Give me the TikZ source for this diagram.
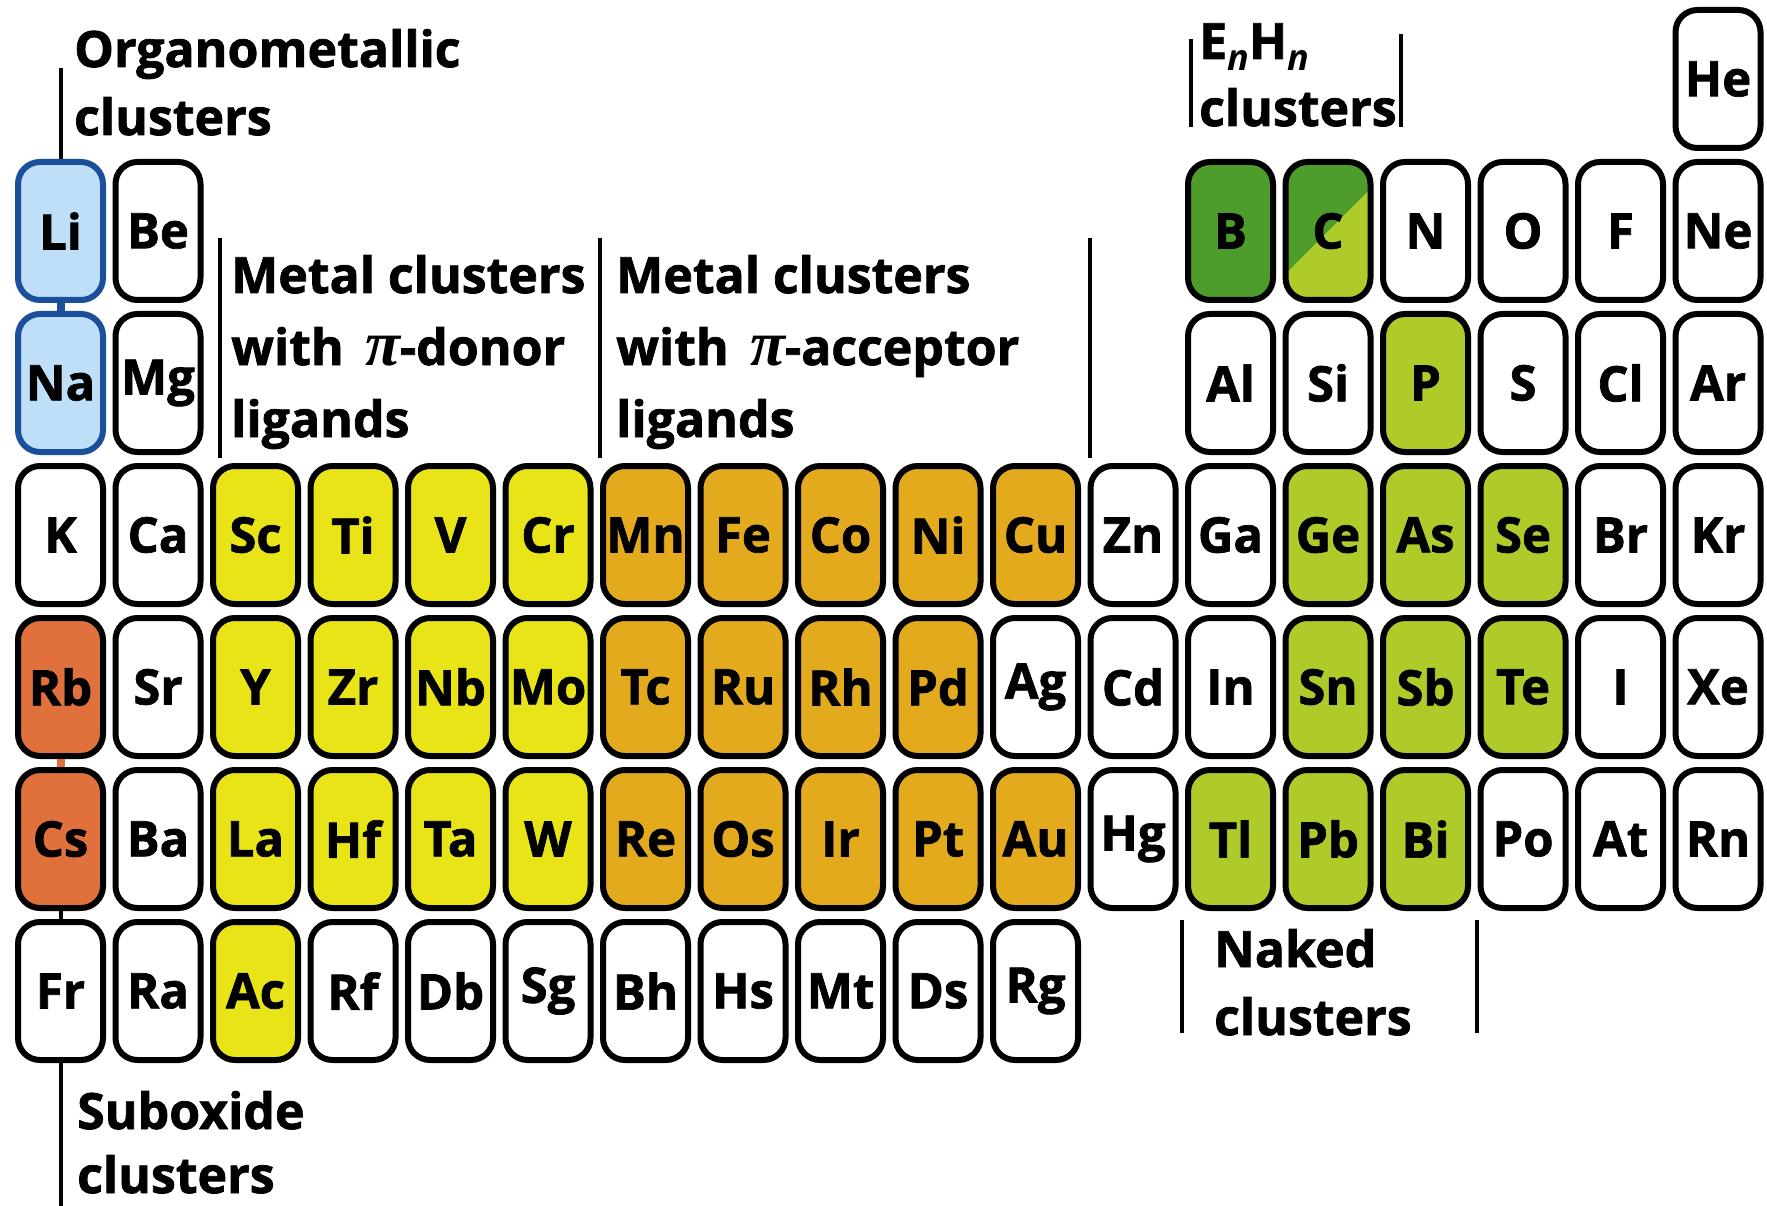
\documentclass[tikz,border=0pt]{standalone}
\usepackage{fontspec}
\setmainfont{Open Sans}[BoldFeatures={FakeBold=1.5}]
\newfontfamily\pifont{Liberation Serif}
\usetikzlibrary{calc}

\definecolor{clblue}{HTML}{BEDFF7}
\definecolor{cldkblue}{HTML}{1B4F9C}
\definecolor{clred}{HTML}{E0703C}
\definecolor{clyellow}{HTML}{E8E417}
\definecolor{clorange}{HTML}{E4AA1E}
\definecolor{cldkgreen}{HTML}{4E9C2C}
\definecolor{clgreen}{HTML}{AECB2A}

\newcommand{\subn}{\raisebox{-12pt}{\fontsize{36}{36}\selectfont\itshape n}}
\newcommand{\pisym}{\,{\fontsize{64}{64}\pifont\bfseries\itshape π}}

\tikzset{
  el/.style={draw=black, line width=6pt, rounded corners=22pt, minimum width=85pt,
    minimum height=138pt, inner sep=0pt, font=\fontsize{49}{49}\selectfont\bfseries},
  elwhite/.style={el, fill=white},
  elblue/.style={el, fill=clblue, draw=cldkblue},
  elred/.style={el, fill=clred},
  elyellow/.style={el, fill=clyellow},
  elorange/.style={el, fill=clorange},
  eldkgreen/.style={el, fill=cldkgreen},
  elgreen/.style={el, fill=clgreen},
  elsplit/.style={el, fill=clgreen, path picture={
    \fill[cldkgreen] ($(path picture bounding box.center)+(-150pt,-150pt)$)
      -- ($(path picture bounding box.center)+(150pt,150pt)$)
      -- ($(path picture bounding box.center)+(-150pt,150pt)$) -- cycle;}},
  lbl/.style={anchor=base west, inner sep=0pt, font=\fontsize{50}{50}\selectfont\bfseries},
  bar/.style={line width=4pt}
}

\begin{document}
\begin{tikzpicture}[x=1pt,y=-1pt]
  \useasboundingbox (0,0) rectangle (1767,1206);

  \foreach \sym/\st/\c/\r in {He/elwhite/18/1,
      Li/elblue/1/2, Be/elwhite/2/2, B/eldkgreen/13/2, C/elsplit/14/2, N/elwhite/15/2,
      O/elwhite/16/2, F/elwhite/17/2, Ne/elwhite/18/2,
      Na/elblue/1/3, Mg/elwhite/2/3, Al/elwhite/13/3, Si/elwhite/14/3, P/elgreen/15/3,
      S/elwhite/16/3, Cl/elwhite/17/3, Ar/elwhite/18/3}
    \node[\st] (\sym) at ({60.5+(\c-1)*97.5},{79+(\r-1)*152}) {\sym};

  \foreach \r/\lst in {
      4/{K/elwhite, Ca/elwhite, Sc/elyellow, Ti/elyellow, V/elyellow, Cr/elyellow,
         Mn/elorange, Fe/elorange, Co/elorange, Ni/elorange, Cu/elorange, Zn/elwhite,
         Ga/elwhite, Ge/elgreen, As/elgreen, Se/elgreen, Br/elwhite, Kr/elwhite},
      5/{Rb/elred, Sr/elwhite, Y/elyellow, Zr/elyellow, Nb/elyellow, Mo/elyellow,
         Tc/elorange, Ru/elorange, Rh/elorange, Pd/elorange, Ag/elwhite, Cd/elwhite,
         In/elwhite, Sn/elgreen, Sb/elgreen, Te/elgreen, I/elwhite, Xe/elwhite},
      6/{Cs/elred, Ba/elwhite, La/elyellow, Hf/elyellow, Ta/elyellow, W/elyellow,
         Re/elorange, Os/elorange, Ir/elorange, Pt/elorange, Au/elorange, Hg/elwhite,
         Tl/elgreen, Pb/elgreen, Bi/elgreen, Po/elwhite, At/elwhite, Rn/elwhite},
      7/{Fr/elwhite, Ra/elwhite, Ac/elyellow, Rf/elwhite, Db/elwhite, Sg/elwhite,
         Bh/elwhite, Hs/elwhite, Mt/elwhite, Ds/elwhite, Rg/elwhite}}
    \foreach \sym/\st [count=\c] in \lst
      \node[\st] (\sym) at ({60.5+(\c-1)*97.5},{79+(\r-1)*152}) {\sym};

  \draw[line width=8pt, cldkblue] (Li) -- (Na);
  \draw[line width=8pt, clred] (Rb) -- (Cs);
  \draw[bar] (Cs) -- (Fr);

  \coordinate (orgtop) at (59,68);
  \coordinate (subend) at (59,1206);
  \draw[bar] (Li.north) -- (Li.north |- orgtop);
  \draw[bar] (Fr.south) -- (Fr.south |- subend);

  \draw[bar] (220,238) -- (220,458);
  \draw[bar] (600,238) -- (600,458);
  \draw[bar] (1090,238) -- (1090,458);
  \draw[bar] (1191,39) -- (1191,127);
  \draw[bar] (1401,34) -- (1401,127);
  \draw[bar] (1182,920) -- (1182,1033);
  \draw[bar] (1477,920) -- (1477,1033);

  \node[lbl] (org1) at (74,67) {Organometallic};
  \node[lbl] (org2) at (74,135) {clusters};
  \node[lbl] (don1) at (231,293) {Metal clusters};
  \node[lbl] (don2) at (231,365) {with \pisym-donor};
  \node[lbl] (don3) at (231,437) {ligands};
  \node[lbl] (acc1) at (616,293) {Metal clusters};
  \node[lbl] (acc2) at (616,365) {with \pisym-acceptor};
  \node[lbl] (acc3) at (616,437) {ligands};
  \node[lbl] (enh1) at (1199,59) {E\subn H\subn};
  \node[lbl] (enh2) at (1199,126) {clusters};
  \node[lbl] (nak1) at (1214,967) {Naked};
  \node[lbl] (nak2) at (1214,1035) {clusters};
  \node[lbl] (sub1) at (77,1129) {Suboxide};
  \node[lbl] (sub2) at (77,1193) {clusters};
\end{tikzpicture}
\end{document}
